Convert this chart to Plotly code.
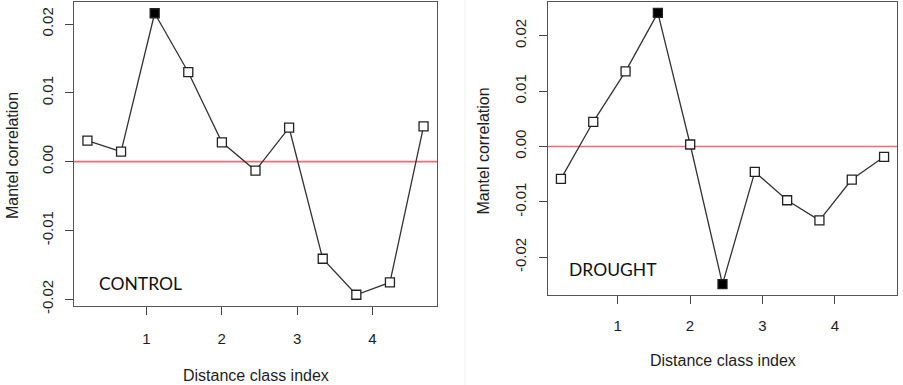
import plotly.graph_objects as go

# Mantel correlogram data: distance class index and Mantel r per class
distance_class = [0.218, 0.664, 1.110, 1.556, 2.002, 2.448, 2.894, 3.340, 3.786, 4.232, 4.678]

control_r = [0.00305, 0.00145, 0.02157, 0.01300, 0.00280, -0.00130, 0.00493,
             -0.01412, -0.01935, -0.01756, 0.00513]
control_sig = [False, False, True, False, False, False, False, False, False, False, False]

drought_r = [-0.00585, 0.00446, 0.01357, 0.02413, 0.00036, -0.02486, -0.00459,
             -0.00971, -0.01333, -0.00597, -0.00187]
drought_sig = [False, False, False, True, False, True, False, False, False, False, False]

x_ticks = [1, 2, 3, 4]
y_ticks = [-0.02, -0.01, 0.0, 0.01, 0.02]
y_ticklabels = ["-0.02", "-0.01", "0.00", "0.01", "0.02"]

W, H = 903, 385


def px_x(p):
    return p / W


def px_y(p):
    return 1 - p / H


panels = [
    dict(name="CONTROL", r=control_r, sig=control_sig, xa="x", ya="y",
         box=(74, 437, 2, 306), ytitle_x=12, xtitle_y=375, label_xy=(97, 283),
         xstand=11, ystand=6),
    dict(name="DROUGHT", r=drought_r, sig=drought_sig, xa="x2", ya="y2",
         box=(548, 897, 2, 295), ytitle_x=483, xtitle_y=360, label_xy=(567, 269),
         xstand=9, ystand=7),
]

fig = go.Figure()
text_color = "#1e1e1e"
axis_font = dict(family="Liberation Sans, Arial, sans-serif", size=15, color=text_color)
title_font = dict(family="Liberation Sans, Arial, sans-serif", size=16, color=text_color)

layout_axes = {}
annotations = []
shapes = []

for i, p in enumerate(panels):
    x0, x1, y0, y1 = p["box"]
    r = p["r"]
    # axis ranges padded by 4% like base graphics
    xspan = max(distance_class) - min(distance_class)
    yspan = max(r) - min(r)
    xr = [min(distance_class) - 0.04 * xspan, max(distance_class) + 0.04 * xspan]
    yr = [min(r) - 0.04 * yspan, max(r) + 0.04 * yspan]

    fig.add_trace(go.Scatter(
        x=distance_class, y=r, mode="lines+markers",
        xaxis=p["xa"], yaxis=p["ya"],
        line=dict(color="#333333", width=1.3),
        marker=dict(symbol="square", size=9,
                    color=["#000000" if s else "#ffffff" for s in p["sig"]],
                    line=dict(color="#222222", width=1.3)),
        showlegend=False, hoverinfo="x+y",
    ))

    suffix = "" if i == 0 else "2"
    layout_axes["xaxis" + suffix] = dict(
        domain=[px_x(x0), px_x(x1)], range=xr, anchor="y" + suffix,
        tickvals=x_ticks, ticktext=[str(t) for t in x_ticks],
        ticks="outside", ticklen=8, tickwidth=1.3, tickcolor="#444444",
        showline=True, linecolor="#555555", linewidth=1.4, mirror=True,
        showgrid=False, zeroline=False, tickfont=axis_font,
        ticklabelstandoff=p["xstand"], automargin=False,
    )
    layout_axes["yaxis" + suffix] = dict(
        domain=[px_y(y1), px_y(y0)], range=yr, anchor="x" + suffix,
        tickvals=y_ticks, ticktext=y_ticklabels, tickangle=-90,
        ticks="outside", ticklen=8, tickwidth=1.3, tickcolor="#444444",
        showline=True, linecolor="#555555", linewidth=1.4, mirror=True,
        showgrid=False, zeroline=False, tickfont=axis_font,
        ticklabelstandoff=p["ystand"], automargin=False,
    )

    # reference line at zero
    shapes.append(dict(type="line", xref=p["xa"] + " domain", yref=p["ya"],
                       x0=0, x1=1, y0=0, y1=0,
                       line=dict(color="rgb(240,108,118)", width=1.6), layer="below"))

    # axis titles
    annotations.append(dict(text="Mantel correlation", xref="paper", yref="paper",
                            x=px_x(p["ytitle_x"]), y=px_y((y0 + y1) / 2 + 2),
                            textangle=-90, showarrow=False, font=title_font,
                            xanchor="center", yanchor="middle"))
    annotations.append(dict(text="Distance class index", xref="paper", yref="paper",
                            x=px_x((x0 + x1) / 2), y=px_y(p["xtitle_y"]),
                            showarrow=False, font=title_font,
                            xanchor="center", yanchor="middle"))
    # treatment label
    lx, ly = p["label_xy"]
    annotations.append(dict(text=p["name"], xref="paper", yref="paper",
                            x=px_x(lx), y=px_y(ly), showarrow=False,
                            font=dict(family="Lato, Open Sans, sans-serif", size=17.5,
                                      color="#111111"),
                            xanchor="left", yanchor="middle"))

# faint page edge between the two panels
shapes.append(dict(type="line", xref="paper", yref="paper",
                   x0=px_x(465), x1=px_x(465), y0=0, y1=1,
                   line=dict(color="#f0f0f0", width=1)))

fig.update_layout(
    width=W, height=H,
    margin=dict(l=0, r=0, t=0, b=0, autoexpand=False),
    paper_bgcolor="white", plot_bgcolor="white",
    shapes=shapes, annotations=annotations,
    **layout_axes,
)

fig.write_html("out.html")
